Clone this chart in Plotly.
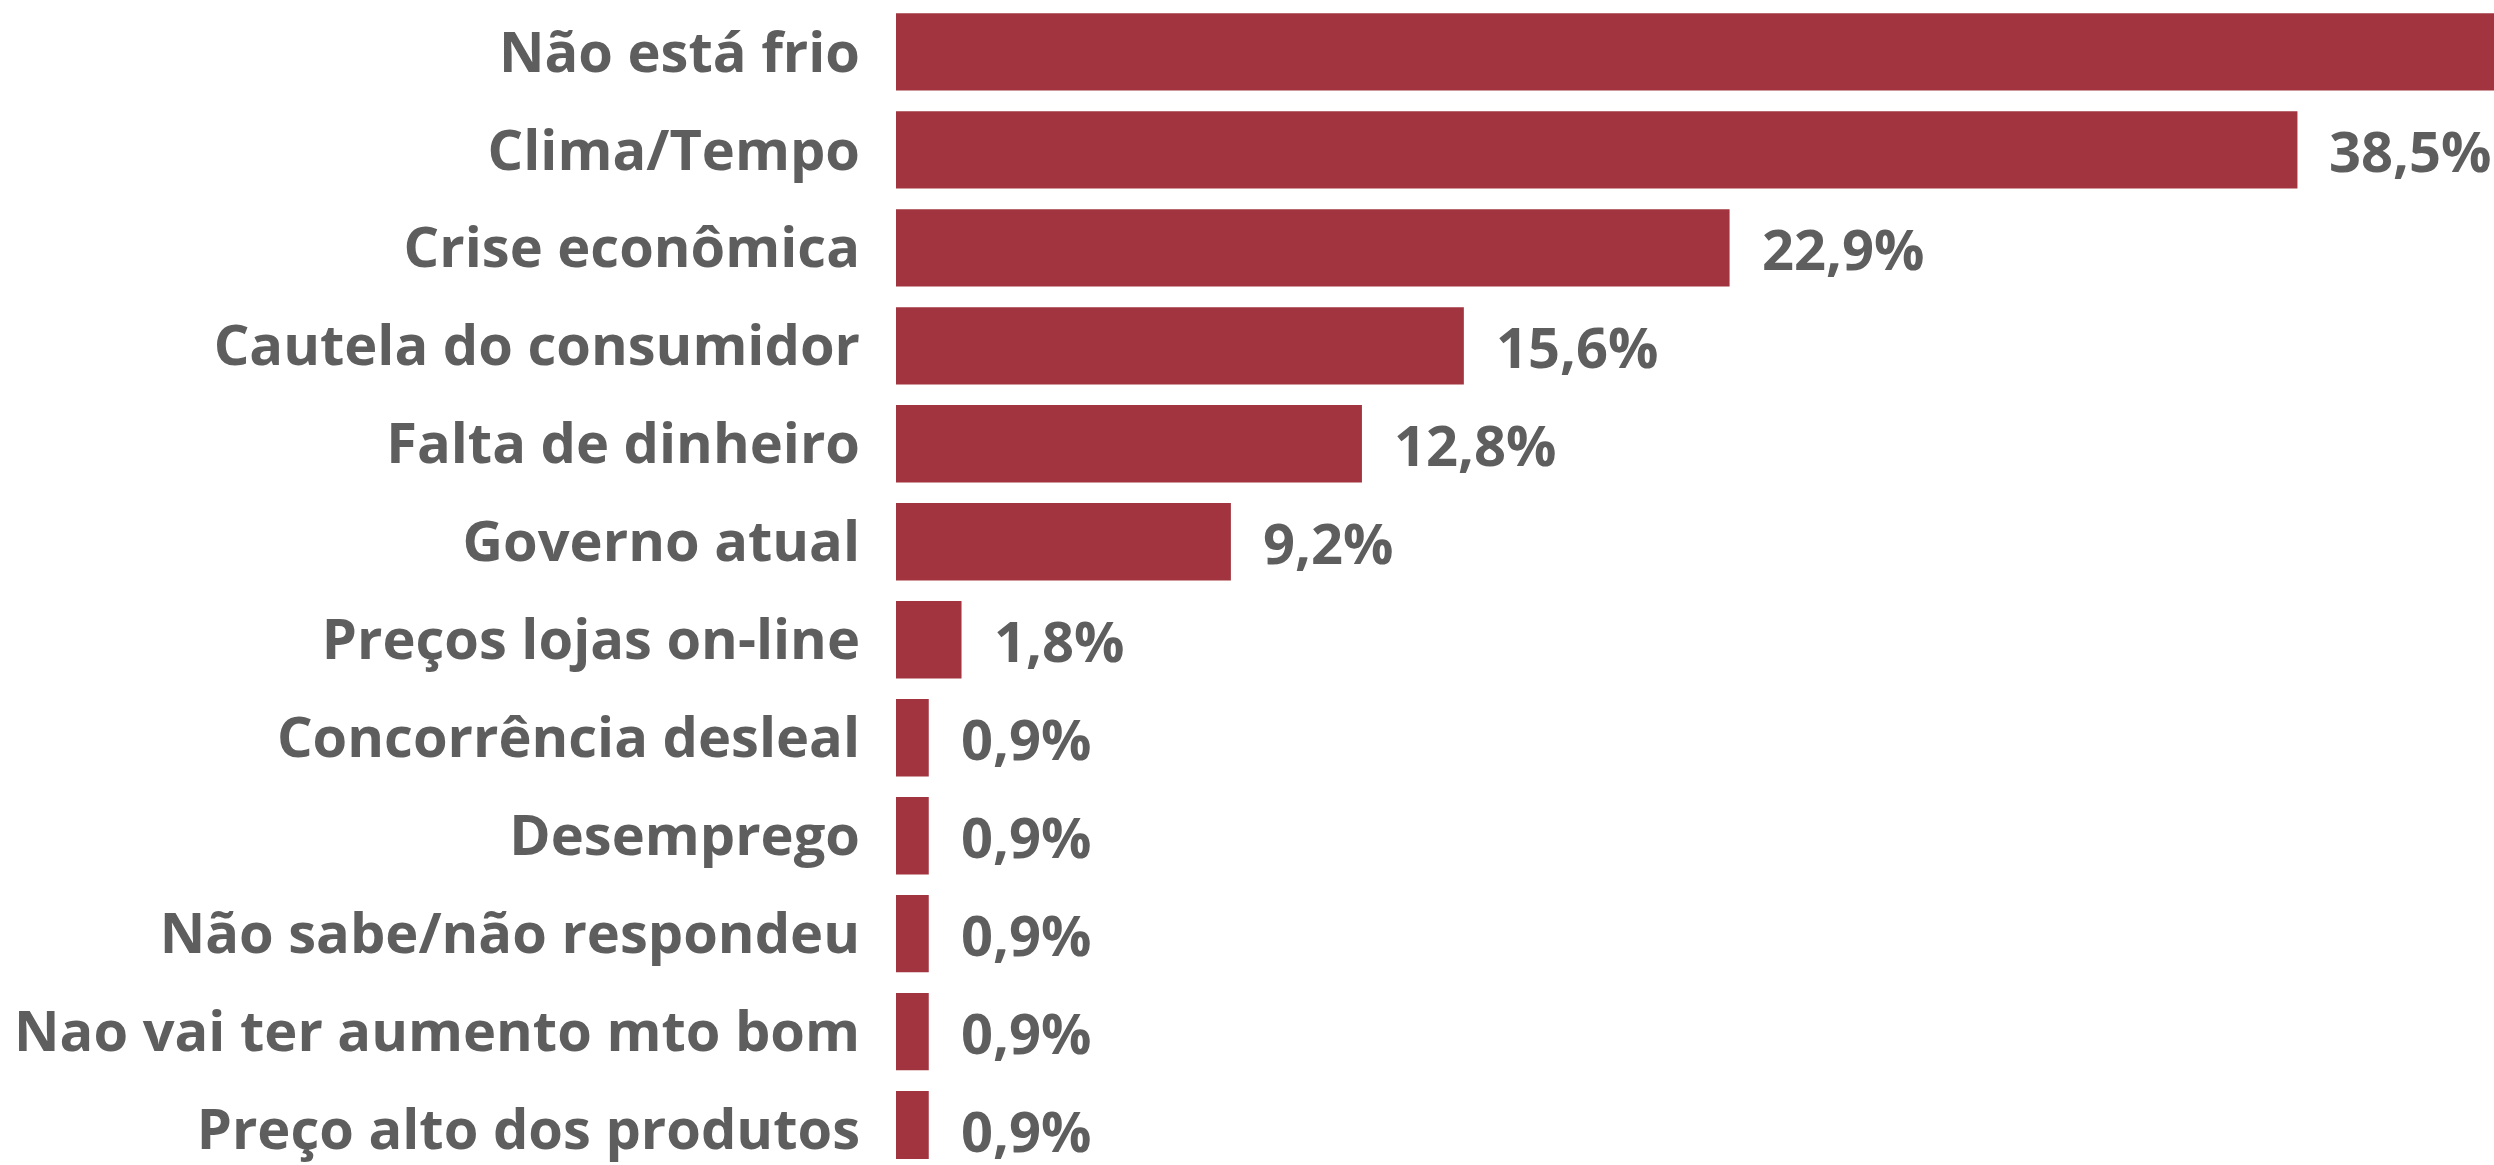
import plotly.graph_objects as go

# Reasons cited, top to bottom, with their share of answers (%)
categories = [
    "Não está frio",
    "Clima/Tempo",
    "Crise econômica",
    "Cautela do consumidor",
    "Falta de dinheiro",
    "Governo atual",
    "Preços lojas on-line",
    "Concorrência desleal",
    "Desemprego",
    "Não sabe/não respondeu",
    "Nao vai ter aumento mto bom",
    "Preço alto dos produtos",
]
values = [47.7, 38.5, 22.9, 15.6, 12.8, 9.2, 1.8, 0.9, 0.9, 0.9, 0.9, 0.9]

BAR_COLOR = "#A1343F"
TEXT_COLOR = "#5E5E5E"
FONT = "Open Sans"
FONT_SIZE = 56


def fmt(v):
    return f"{v:.1f}".replace(".", ",") + "%"


fig = go.Figure(
    go.Bar(
        x=values,
        y=categories,
        orientation="h",
        marker=dict(color=BAR_COLOR, line=dict(width=0)),
        cliponaxis=True,
        hoverinfo="skip",
    )
)

# value labels just right of each bar end
for cat, v in zip(categories, values):
    fig.add_annotation(
        x=v, y=cat, xref="x", yref="y",
        text=fmt(v), showarrow=False,
        xanchor="left", yanchor="middle", xshift=30,
        font=dict(family=FONT, size=FONT_SIZE, color=TEXT_COLOR, weight="bold"),
    )

fig.update_layout(
    width=2494, height=1165,
    margin=dict(l=896, r=0, t=0, b=0),
    paper_bgcolor="white", plot_bgcolor="white",
    bargap=0.21,
    showlegend=False,
    font=dict(family=FONT, color=TEXT_COLOR),
)
fig.update_xaxes(range=[0, 43.9], visible=False, fixedrange=True)
fig.update_yaxes(
    type="category",
    categoryorder="array", categoryarray=categories,
    range=[11.30, -0.53],
    showgrid=False, zeroline=False, showline=False, ticks="",
    ticklabelstandoff=35,
    tickfont=dict(family=FONT, size=FONT_SIZE, color=TEXT_COLOR, weight="bold"),
    fixedrange=True,
)

fig.write_html("out.html", config={"displayModeBar": False})
